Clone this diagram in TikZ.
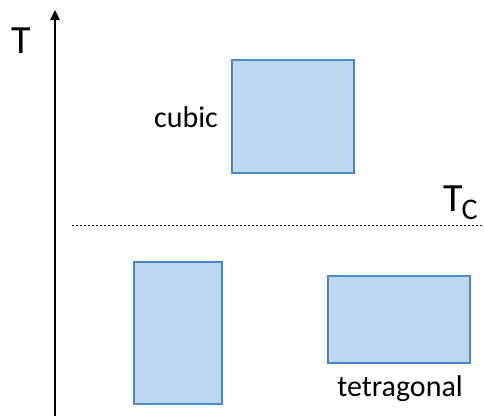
\documentclass[tikz,border=0pt]{standalone}
\usepackage{fontspec}
\setmainfont{Carlito}
\usetikzlibrary{arrows.meta}

\definecolor{cellfill}{HTML}{BDD7EE}
\definecolor{celledge}{HTML}{4A86C5}

\begin{document}
\begin{tikzpicture}[
    x=1pt, y=-1pt,
    cell/.style={draw=celledge, fill=cellfill, line width=1.6pt},
    lbl/.style={font=\fontsize{30}{34}\selectfont, inner sep=0pt}
]
\useasboundingbox (0,0) rectangle (484,416);

% temperature axis
\coordinate (base) at (55,416);
\coordinate (top) at (55,10);
\draw[line width=1.4pt, -{Triangle[length=10pt, width=9.5pt]}] (base) -- (top);
\node[font=\fontsize{40}{44}\selectfont, inner sep=0pt] (tlabel) at (21,41) {T};

% transition temperature
\coordinate (tcleft) at (72,225);
\coordinate (tcright) at (484,225);
\draw[dashed, dash pattern=on 2pt off 2pt, line width=0.6pt] (tcleft) -- (tcright);
\node[font=\fontsize{40}{44}\selectfont, inner sep=0pt, anchor=base west] (tc) at (443,211) {T\kern-1pt\raisebox{-8pt}{\fontsize{30}{34}\selectfont C}};

% cubic phase above Tc
\draw[cell] (232,60) rectangle (354,173);
\node[lbl] (cubic) at (186,117) {cubic};

% tetragonal phases below Tc
\draw[cell] (134,262) rectangle (222,404);
\draw[cell] (328,276) rectangle (470,363);
\node[lbl] (tetra) at (400,389) {tetragonal};
\end{tikzpicture}
\end{document}
